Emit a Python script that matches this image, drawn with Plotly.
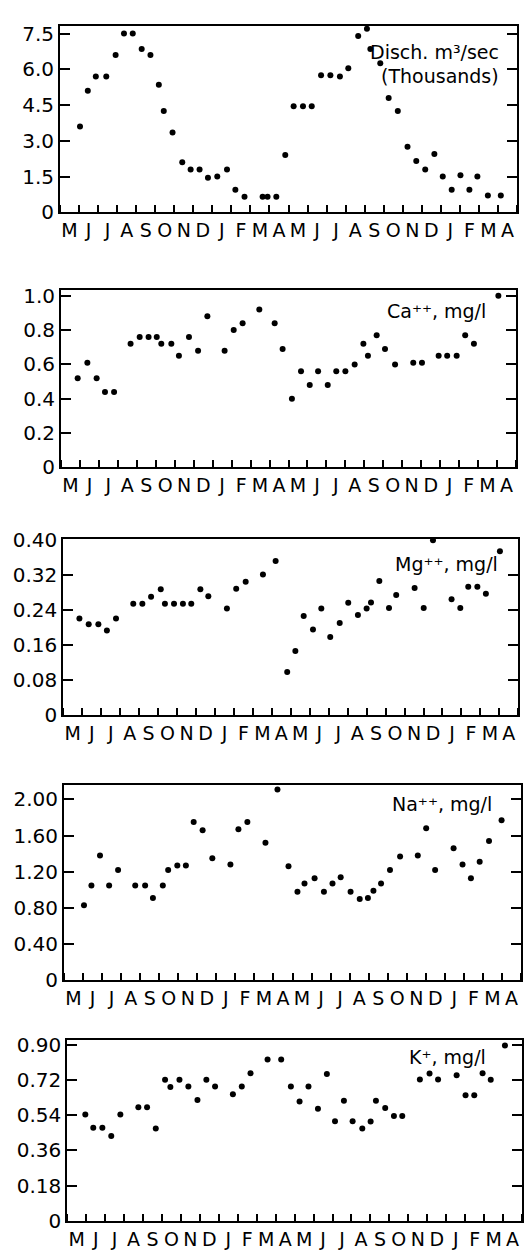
import plotly.graph_objects as go

# ---------------- data (time in months from start of May, year 1) ----------------
months = ["M", "J", "J", "A", "S", "O", "N", "D", "J", "F", "M", "A"] * 2

disch_t = [1.05, 1.46, 1.88, 2.43, 2.92, 3.36, 3.82, 4.29, 4.75, 5.19, 5.45, 5.91,
           6.42, 6.86, 7.33, 7.77, 8.26, 8.77, 9.21, 9.69, 10.64, 10.90, 11.36, 11.83,
           12.27, 12.76, 13.22, 13.71, 14.20, 14.70, 15.14, 15.66, 16.12, 16.30, 16.82, 17.26,
           17.74, 18.25, 18.71, 19.18, 19.66, 20.10, 20.57, 21.03, 21.50, 21.92, 22.47, 23.15]
disch_v = [3.6, 5.1, 5.7, 5.7, 6.6, 7.5, 7.5, 6.85, 6.6, 5.35, 4.25, 3.35,
           2.1, 1.8, 1.8, 1.45, 1.5, 1.8, 0.95, 0.65, 0.65, 0.65, 0.65, 2.4,
           4.45, 4.45, 4.45, 5.75, 5.75, 5.7, 6.05, 7.4, 7.7, 6.85, 6.25, 4.8,
           4.25, 2.75, 2.15, 1.8, 2.45, 1.5, 0.95, 1.55, 0.95, 1.5, 0.7, 0.7]

ca_t = [0.88, 1.39, 1.88, 2.32, 2.80, 3.67, 4.15, 4.62, 5.05, 5.29, 5.82, 6.22,
        6.75, 7.23, 7.72, 8.63, 9.11, 9.58, 10.46, 11.27, 11.69, 12.18, 12.66, 13.12,
        13.56, 14.07, 14.52, 15.00, 15.49, 15.95, 16.19, 16.65, 17.09, 17.62, 18.58, 19.04,
        19.92, 20.37, 20.87, 21.32, 21.78, 23.07]
ca_v = [0.52, 0.61, 0.52, 0.44, 0.44, 0.72, 0.76, 0.76, 0.76, 0.72, 0.72, 0.65,
        0.76, 0.68, 0.88, 0.68, 0.80, 0.84, 0.92, 0.84, 0.69, 0.40, 0.56, 0.48,
        0.56, 0.48, 0.56, 0.56, 0.60, 0.72, 0.65, 0.77, 0.69, 0.60, 0.61, 0.61,
        0.65, 0.65, 0.65, 0.77, 0.72, 1.00]

mg_t = [0.85, 1.34, 1.85, 2.30, 2.78, 3.69, 4.17, 4.63, 5.14, 5.36, 5.84, 6.31,
        6.75, 7.23, 7.65, 8.63, 9.12, 9.62, 10.53, 11.20, 11.81, 12.24, 12.68, 13.17,
        13.61, 14.08, 14.58, 15.03, 15.54, 16.00, 16.23, 16.67, 17.18, 17.56, 18.53, 19.01,
        19.50, 20.48, 20.94, 21.36, 21.84, 22.29, 23.03]
mg_v = [0.221, 0.208, 0.208, 0.194, 0.221, 0.255, 0.255, 0.271, 0.288, 0.255, 0.255, 0.255,
        0.255, 0.288, 0.272, 0.244, 0.289, 0.305, 0.322, 0.353, 0.099, 0.147, 0.227, 0.196,
        0.244, 0.179, 0.211, 0.257, 0.229, 0.244, 0.258, 0.307, 0.245, 0.275, 0.291, 0.245,
        0.400, 0.265, 0.245, 0.294, 0.294, 0.278, 0.375]

na_t = [1.05, 1.44, 1.89, 2.37, 2.84, 3.74, 4.26, 4.67, 5.19, 5.47, 5.95, 6.40,
        6.81, 7.28, 7.79, 8.74, 9.16, 9.63, 10.58, 11.21, 11.79, 12.26, 12.63, 13.16,
        13.65, 14.10, 14.53, 15.05, 15.53, 15.96, 16.25, 16.65, 17.12, 17.65, 18.58, 19.02,
        19.49, 20.46, 20.93, 21.37, 21.83, 22.32, 22.98]
na_v = [0.83, 1.05, 1.38, 1.05, 1.22, 1.05, 1.05, 0.91, 1.05, 1.22, 1.27, 1.27,
        1.75, 1.66, 1.35, 1.28, 1.67, 1.75, 1.52, 2.11, 1.26, 0.98, 1.07, 1.13,
        0.98, 1.07, 1.14, 0.98, 0.90, 0.91, 0.99, 1.07, 1.22, 1.37, 1.38, 1.68,
        1.22, 1.46, 1.28, 1.13, 1.31, 1.54, 1.77]

k_t = [0.95, 1.37, 1.85, 2.32, 2.80, 3.75, 4.21, 4.67, 5.16, 5.44, 5.92, 6.39,
       6.87, 7.34, 7.80, 8.74, 9.21, 9.67, 10.57, 11.29, 11.80, 12.26, 12.73, 13.23,
       13.70, 14.13, 14.60, 15.06, 15.57, 16.01, 16.29, 16.78, 17.24, 17.68, 18.61, 19.12,
       19.57, 20.55, 21.02, 21.48, 21.92, 22.35, 23.10]
k_v = [0.544, 0.476, 0.476, 0.434, 0.544, 0.581, 0.581, 0.472, 0.722, 0.685, 0.722, 0.688,
       0.618, 0.722, 0.688, 0.648, 0.688, 0.755, 0.826, 0.826, 0.688, 0.611, 0.688, 0.573,
       0.752, 0.509, 0.615, 0.509, 0.472, 0.508, 0.615, 0.578, 0.536, 0.536, 0.724, 0.754,
       0.724, 0.745, 0.643, 0.643, 0.755, 0.722, 0.898]

disch_ticks = [0, 1.5, 3.0, 4.5, 6.0, 7.5]
disch_ticktext = ["0", "1.5", "3.0", "4.5", "6.0", "7.5"]
ca_ticks = [0, 0.2, 0.4, 0.6, 0.8, 1.0]
ca_ticktext = ["0", "0.2", "0.4", "0.6", "0.8", "1.0"]
mg_ticks = [0, 0.08, 0.16, 0.24, 0.32, 0.40]
mg_ticktext = ["0", "0.08", "0.16", "0.24", "0.32", "0.40"]
na_ticks = [0, 0.4, 0.8, 1.2, 1.6, 2.0]
na_ticktext = ["0", "0.40", "0.80", "1.20", "1.60", "2.00"]
k_ticks = [0, 0.18, 0.36, 0.54, 0.72, 0.90]
k_ticktext = ["0", "0.18", "0.36", "0.54", "0.72", "0.90"]

# ---------------- layout geometry (pixels in a 527 x 1258 page) ----------------
W, H = 527, 1258
FONT = "DejaVu Sans"

panels = [
    dict(t=disch_t, v=disch_v, ticks=disch_ticks, tt=disch_ticktext, ymax=7.83,
         box=(60, 517, 15, 205),
         labels=[("Disch. m³/sec", 501, 42), ("(Thousands)", 501, 66)]),
    dict(t=ca_t, v=ca_v, ticks=ca_ticks, tt=ca_ticktext, ymax=1.034,
         box=(61, 516, 284, 465),
         labels=[("Ca⁺⁺, mg/l", 488, 306)]),
    dict(t=mg_t, v=mg_v, ticks=mg_ticks, tt=mg_ticktext, ymax=0.402,
         box=(63.3, 518.3, 538.3, 717.3),
         labels=[("Mg⁺⁺, mg/l", 500, 563)]),
    dict(t=na_t, v=na_v, ticks=na_ticks, tt=na_ticktext, ymax=2.16,
         box=(64, 521, 788.3, 987.5),
         labels=[("Na⁺⁺, mg/l", 494, 808)]),
    dict(t=k_t, v=k_v, ticks=k_ticks, tt=k_ticktext, ymax=0.928,
         box=(67.3, 522, 1047.7, 1232.3),
         labels=[("K⁺, mg/l", 488, 1065)]),
]

fig = go.Figure()
layout = dict(
    width=W, height=H,
    margin=dict(l=0, r=0, t=0, b=0),
    paper_bgcolor="white", plot_bgcolor="white",
    showlegend=False,
    font=dict(family=FONT, color="black"),
    annotations=[],
)

month_centers = [i + 0.5 for i in range(24)]

for i, p in enumerate(panels, start=1):
    xs = "" if i == 1 else str(i)
    xname, yname = "x" + xs, "y" + xs
    fig.add_trace(go.Scatter(
        x=p["t"], y=p["v"], mode="markers",
        marker=dict(color="black", size=6),
        xaxis=xname, yaxis=yname, cliponaxis=False,
    ))
    l, r, top, bot = p["box"]
    layout["xaxis" + xs] = dict(
        domain=[l / W, r / W], range=[0, 24], anchor=yname,
        tickmode="array", tickvals=month_centers, ticktext=months,
        ticks="", showline=True, linecolor="black", linewidth=2, mirror=True,
        showgrid=False, zeroline=False,
        tickfont=dict(family=FONT, size=19, color="black"),
        minor=dict(ticks="inside", tick0=0, dtick=1, ticklen=7, tickwidth=2,
                   tickcolor="black", showgrid=False),
    )
    layout["yaxis" + xs] = dict(
        domain=[1 - bot / H, 1 - top / H], range=[0, p["ymax"]], anchor=xname,
        tickmode="array", tickvals=p["ticks"], ticktext=p["tt"],
        ticks="inside", ticklen=10, tickwidth=2, tickcolor="black",
        showline=True, linecolor="black", linewidth=2, mirror="ticks",
        showgrid=False, zeroline=False,
        tickfont=dict(family=FONT, size=20, color="black"),
    )
    for text, px, py in p["labels"]:
        layout["annotations"].append(dict(
            text=text, x=px / W, y=1 - py / H, xref="paper", yref="paper",
            xanchor="right", yanchor="middle", showarrow=False,
            font=dict(family=FONT, size=19, color="black"),
        ))

fig.update_layout(**layout)
fig.write_html(
    "out.html",
    config={"displayModeBar": False},
    post_script="document.body.style.margin='0';document.body.style.padding='0';",
)
